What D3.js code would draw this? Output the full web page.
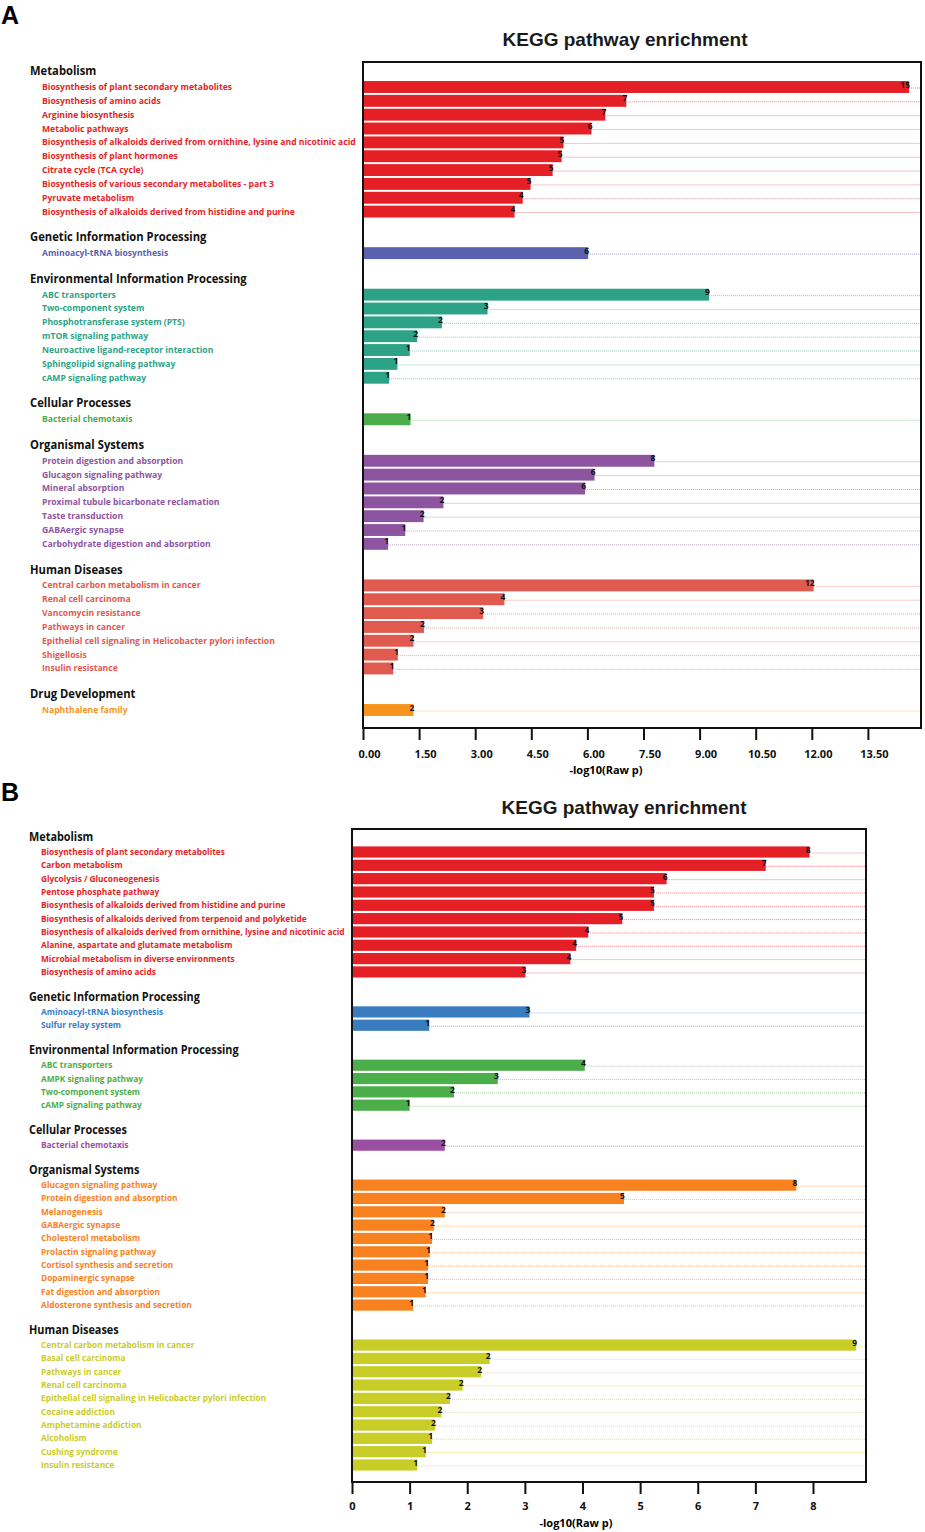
<!DOCTYPE html>
<html>
<head>
<meta charset="utf-8">
<script src="https://cdn.jsdelivr.net/npm/d3@7"></script>
<style>
  body { margin: 0; background: #fff; }
  svg { display: block; }
</style>
</head>
<body>
<svg id="fig" width="925" height="1532"></svg>
<script>
// ---------- panel A data ----------
let groupsA = ["Metabolism", "Genetic Information Processing", "Environmental Information Processing",
  "Cellular Processes", "Organismal Systems", "Human Diseases", "Drug Development"]
let colorsA = ["#e41f26", "#5a62ad", "#2ca386", "#4cab4a", "#8d55a0", "#e05a50", "#f7941d"]
let pathwaysA = [
  ["Biosynthesis of plant secondary metabolites", "Biosynthesis of amino acids", "Arginine biosynthesis",
   "Metabolic pathways", "Biosynthesis of alkaloids derived from ornithine, lysine and nicotinic acid",
   "Biosynthesis of plant hormones", "Citrate cycle (TCA cycle)",
   "Biosynthesis of various secondary metabolites - part 3", "Pyruvate metabolism",
   "Biosynthesis of alkaloids derived from histidine and purine"],
  ["Aminoacyl-tRNA biosynthesis"],
  ["ABC transporters", "Two-component system", "Phosphotransferase system (PTS)", "mTOR signaling pathway",
   "Neuroactive ligand-receptor interaction", "Sphingolipid signaling pathway", "cAMP signaling pathway"],
  ["Bacterial chemotaxis"],
  ["Protein digestion and absorption", "Glucagon signaling pathway", "Mineral absorption",
   "Proximal tubule bicarbonate reclamation", "Taste transduction", "GABAergic synapse",
   "Carbohydrate digestion and absorption"],
  ["Central carbon metabolism in cancer", "Renal cell carcinoma", "Vancomycin resistance", "Pathways in cancer",
   "Epithelial cell signaling in Helicobacter pylori infection", "Shigellosis", "Insulin resistance"],
  ["Naphthalene family"]
]
let valuesA = [
  [14.6, 7.04, 6.48, 6.11, 5.36, 5.31, 5.07, 4.48, 4.27, 4.05],
  [6.02],
  [9.25, 3.33, 2.11, 1.45, 1.25, 0.92, 0.70],
  [1.27],
  [7.79, 6.19, 5.94, 2.15, 1.62, 1.13, 0.67],
  [12.05, 3.78, 3.21, 1.63, 1.35, 0.93, 0.81],
  [1.35]
]
let countsA = [
  [15, 7, 7, 6, 5, 5, 5, 5, 4, 4],
  [6],
  [9, 3, 2, 2, 1, 1, 1],
  [1],
  [8, 6, 6, 2, 2, 1, 1],
  [12, 4, 3, 2, 2, 1, 1],
  [2]
]
let ticksA = [0, 1.5, 3, 4.5, 6, 7.5, 9, 10.5, 12, 13.5]

// ---------- panel B data ----------
let groupsB = ["Metabolism", "Genetic Information Processing", "Environmental Information Processing",
  "Cellular Processes", "Organismal Systems", "Human Diseases"]
let colorsB = ["#e41f26", "#3a7dbf", "#4cae4a", "#9a4fa3", "#f7821f", "#c9cd27"]
let pathwaysB = [
  ["Biosynthesis of plant secondary metabolites", "Carbon metabolism", "Glycolysis / Gluconeogenesis",
   "Pentose phosphate pathway", "Biosynthesis of alkaloids derived from histidine and purine",
   "Biosynthesis of alkaloids derived from terpenoid and polyketide",
   "Biosynthesis of alkaloids derived from ornithine, lysine and nicotinic acid",
   "Alanine, aspartate and glutamate metabolism", "Microbial metabolism in diverse environments",
   "Biosynthesis of amino acids"],
  ["Aminoacyl-tRNA biosynthesis", "Sulfur relay system"],
  ["ABC transporters", "AMPK signaling pathway", "Two-component system", "cAMP signaling pathway"],
  ["Bacterial chemotaxis"],
  ["Glucagon signaling pathway", "Protein digestion and absorption", "Melanogenesis", "GABAergic synapse",
   "Cholesterol metabolism", "Prolactin signaling pathway", "Cortisol synthesis and secretion",
   "Dopaminergic synapse", "Fat digestion and absorption", "Aldosterone synthesis and secretion"],
  ["Central carbon metabolism in cancer", "Basal cell carcinoma", "Pathways in cancer", "Renal cell carcinoma",
   "Epithelial cell signaling in Helicobacter pylori infection", "Cocaine addiction", "Amphetamine addiction",
   "Alcoholism", "Cushing syndrome", "Insulin resistance"]
]
let valuesB = [
  [7.94, 7.18, 5.46, 5.24, 5.24, 4.69, 4.10, 3.89, 3.79, 3.01],
  [3.08, 1.34],
  [4.04, 2.53, 1.77, 1.00],
  [1.61],
  [7.71, 4.72, 1.61, 1.42, 1.39, 1.35, 1.32, 1.32, 1.28, 1.06],
  [8.75, 2.39, 2.24, 1.92, 1.70, 1.55, 1.44, 1.39, 1.28, 1.13]
]
let countsB = [
  [8, 7, 6, 5, 5, 5, 4, 4, 4, 3],
  [3, 1],
  [4, 3, 2, 1],
  [2],
  [8, 5, 2, 2, 1, 1, 1, 1, 1, 1],
  [9, 2, 2, 2, 2, 2, 2, 1, 1, 1]
]
let ticksB = [0, 1, 2, 3, 4, 5, 6, 7, 8]

let svg = d3.select("#fig")
let labelFont = "'Open Sans', 'Noto Sans', sans-serif"

function drawPanel(p) {
  let g = svg.append("g")

  // turn the nested arrays into a flat list of rows, with headers taking one slot
  let rows = [], headers = []
  let slot = -1
  p.groups.forEach((name, gi) => {
    headers.push({name: name, slot: slot})
    p.pathways[gi].forEach((pw, k) => {
      slot += 1
      rows.push({name: pw, value: p.values[gi][k], count: p.counts[gi][k], color: p.colors[gi], slot: slot})
    })
    slot += 2
  })
  let lastSlot = rows[rows.length - 1].slot

  let x = d3.scaleLinear().domain([0, p.xMax]).range([p.left, p.right])
  let y = d3.scaleLinear().domain([0, lastSlot]).range([p.firstY, p.lastY])
  let step = y(1) - y(0)
  let barH = step * p.barFrac

  // panel letter and title
  g.append("text").attr("x", 1).attr("y", p.letterY)
    .attr("font-family", "'Liberation Sans', Arial, sans-serif").attr("font-weight", "bold")
    .attr("font-size", 25).text(p.letter)
  g.append("text").attr("x", p.titleX).attr("y", p.titleY).attr("text-anchor", "middle")
    .attr("font-family", "'Liberation Sans', Arial, sans-serif").attr("font-size", 19)
    .attr("font-weight", "bold").attr("fill", "#1a1a1a")
    .text("KEGG pathway enrichment")

  // dotted guide lines
  g.append("g").selectAll("line").data(rows).enter().append("line")
    .attr("x1", d => x(d.value)).attr("x2", p.right)
    .attr("y1", d => y(d.slot) + 1).attr("y2", d => y(d.slot) + 1)
    .attr("stroke", d => d.color).attr("stroke-opacity", 0.55)
    .attr("stroke-width", 1).attr("stroke-dasharray", "1,1")

  // bars
  g.append("g").selectAll("rect").data(rows).enter().append("rect")
    .attr("x", x(0)).attr("y", d => y(d.slot) - barH / 2)
    .attr("width", d => x(d.value) - x(0)).attr("height", barH)
    .attr("fill", d => d.color)

  // count labels at bar ends
  g.append("g").selectAll("text").data(rows).enter().append("text")
    .attr("x", d => x(d.value) + 1).attr("y", d => y(d.slot) - barH / 2 + 6.5)
    .attr("text-anchor", "end").attr("font-family", labelFont).attr("font-weight", "bold")
    .attr("font-size", 8.5).attr("fill", "#111").text(d => d.count)

  // frame
  g.append("rect").attr("x", p.left).attr("y", p.top)
    .attr("width", p.right - p.left).attr("height", p.bottom - p.top)
    .attr("fill", "none").attr("stroke", "#111").attr("stroke-width", 2)

  // x axis below frame
  let axis = g.append("g").attr("transform", `translate(0,${p.bottom})`)
    .call(d3.axisBottom(x).tickValues(p.ticks).tickSize(12).tickFormat(d3.format(p.fmt)))
  axis.select(".domain").remove()
  axis.selectAll(".tick line").attr("stroke", "#111").attr("stroke-width", 2)
  axis.selectAll(".tick text").attr("y", p.tickTextY).attr("dx", p.tickDx)
    .attr("font-family", labelFont).attr("font-weight", "bold").attr("font-size", 11).attr("fill", "#111")
  g.append("text").attr("x", p.axisTitleX).attr("y", p.axisTitleY).attr("text-anchor", "middle")
    .attr("font-family", labelFont).attr("font-weight", "bold").attr("font-size", 11)
    .text("-log10(Raw p)")

  // group headers
  let hText = g.append("g").selectAll("text").data(headers).enter().append("text")
    .attr("y", d => y(d.slot) + 2)
    .attr("font-family", labelFont).attr("font-weight", "bold").attr("font-size", 12)
    .attr("fill", "#111").text(d => d.name)
  let hLong = d3.max(hText.nodes(), n => n.getComputedTextLength())
  let hk = p.headerWidth / hLong
  hText.attr("transform", d => `translate(${p.headerX},0) scale(${hk},1)`)

  // pathway labels
  let pText = g.append("g").selectAll("text").data(rows).enter().append("text")
    .attr("y", d => y(d.slot) + 3)
    .attr("font-family", labelFont).attr("font-weight", "bold").attr("font-size", 9)
    .attr("fill", d => d.color).text(d => d.name)
  let pLong = d3.max(pText.nodes(), n => n.getComputedTextLength())
  let pk = p.labelWidth / pLong
  pText.attr("transform", d => `translate(${p.labelX},0) scale(${pk},1)`)
}

drawPanel({
  letter: "A", letterY: 24, titleX: 625, titleY: 46,
  groups: groupsA, colors: colorsA, pathways: pathwaysA, values: valuesA, counts: countsA,
  ticks: ticksA, fmt: ".2f", xMax: 14.92,
  left: 363, right: 921, top: 62, bottom: 728, firstY: 87, lastY: 710, barFrac: 0.86,
  tickTextY: 22, tickDx: 6, axisTitleX: 606, axisTitleY: 774,
  headerX: 30, headerWidth: 217, labelX: 42, labelWidth: 314
})

drawPanel({
  letter: "B", letterY: 801, titleX: 624, titleY: 814,
  groups: groupsB, colors: colorsB, pathways: pathwaysB, values: valuesB, counts: countsB,
  ticks: ticksB, fmt: "d", xMax: 8.92,
  left: 352, right: 866, top: 829, bottom: 1482, firstY: 852, lastY: 1465, barFrac: 0.84,
  tickTextY: 20, tickDx: 0, axisTitleX: 576, axisTitleY: 1527,
  headerX: 29, headerWidth: 210, labelX: 41, labelWidth: 304
})
</script>
</body>
</html>
